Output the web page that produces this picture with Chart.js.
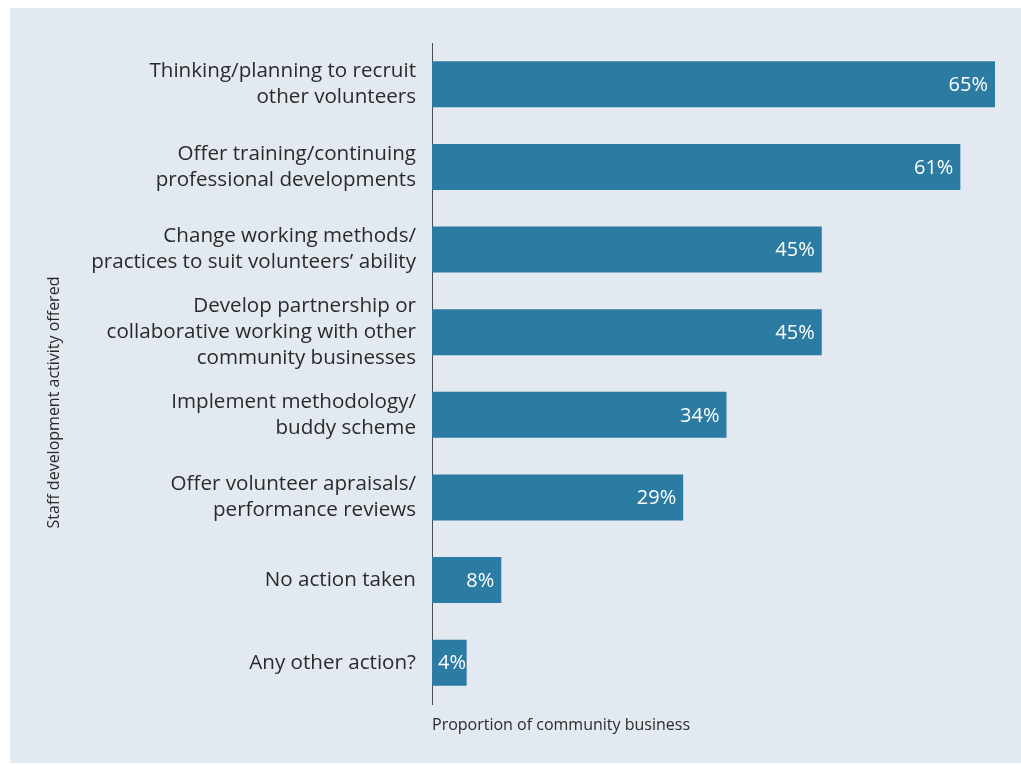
<!DOCTYPE html>
<html>
<head>
<meta charset="utf-8">
<script src="https://cdn.jsdelivr.net/npm/chart.js@4"></script>
<style>
    html, body { margin: 0; padding: 0; background: #ffffff; }
    .panel { position: absolute; left: 10px; top: 8px; width: 1011px; height: 755px; background: #e2e9f1; }
    canvas { display: block; }
</style>
</head>
<body>
<div class="panel">
    <canvas id="staff-development-chart" width="1011" height="755"></canvas>
</div>
<script>
const activityLabels = [
    ['Thinking/planning to recruit', 'other volunteers'],
    ['Offer training/continuing', 'professional developments'],
    ['Change working methods/', 'practices to suit volunteers\u2019 ability'],
    ['Develop partnership or', 'collaborative working with other', 'community businesses'],
    ['Implement methodology/', 'buddy scheme'],
    ['Offer volunteer apraisals/', 'performance reviews'],
    'No action taken',
    'Any other action?'
];
const proportionValues = [65, 61, 45, 45, 34, 29, 8, 4];
const axisMax = 65;

const yAxisTitle = 'Staff development activity offered';
const xAxisTitle = 'Proportion of community business';

const textColor = '#2a2a2a';
const barColor = '#2b7ba3';

// percentage labels inside the end of each bar, kept clear of the axis on short bars
const barValueLabels = {
    id: 'barValueLabels',
    afterDatasetsDraw(chart) {
        const ctx = chart.ctx;
        const meta = chart.getDatasetMeta(0);
        ctx.save();
        ctx.font = '20px "Open Sans"';
        ctx.fillStyle = '#ffffff';
        ctx.textAlign = 'right';
        ctx.textBaseline = 'middle';
        meta.data.forEach((bar, i) => {
            const text = proportionValues[i] + '%';
            const w = ctx.measureText(text).width;
            const x = Math.max(bar.x - 7, bar.base + 6 + w);
            ctx.fillText(text, x, bar.y + 1);
        });
        ctx.restore();
    }
};

document.addEventListener('DOMContentLoaded', function() {
    const ctx = document.getElementById('staff-development-chart').getContext('2d');

    new Chart(ctx, {
        type: 'bar',
        data: {
            labels: activityLabels,
            datasets: [{
                data: proportionValues,
                backgroundColor: barColor,
                borderWidth: 0,
                barPercentage: 0.557,
                categoryPercentage: 1
            }]
        },
        options: {
            indexAxis: 'y',
            responsive: false,
            animation: false,
            layout: {
                padding: { left: 0, right: 26, top: 35, bottom: 1 }
            },
            scales: {
                x: {
                    min: 0,
                    max: axisMax,
                    grid: { display: false },
                    border: { display: false },
                    ticks: { display: false },
                    title: {
                        display: true,
                        text: xAxisTitle,
                        align: 'start',
                        color: textColor,
                        font: { family: '"Open Sans"', size: 16, lineHeight: 1.2 },
                        padding: { top: 0, bottom: 27 }
                    },
                    afterFit: function(scale) {
                        scale.height = 58;
                    }
                },
                y: {
                    grid: { display: false, drawTicks: false },
                    border: { display: true, color: '#4d4d4d', width: 1 },
                    ticks: {
                        color: textColor,
                        padding: 16,
                        font: { family: '"Open Sans"', size: 20.6, lineHeight: 1.26 }
                    },
                    afterFit: function(scale) {
                        scale.width = 370;
                    }
                }
            },
            plugins: {
                legend: { display: false },
                tooltip: { enabled: false },
                title: {
                    display: true,
                    position: 'left',
                    text: yAxisTitle,
                    color: textColor,
                    font: { family: '"Open Sans"', size: 16, weight: 'normal', lineHeight: 1 },
                    padding: { top: 36, bottom: 0 }
                }
            }
        },
        plugins: [barValueLabels]
    });
});
</script>
</body>
</html>
